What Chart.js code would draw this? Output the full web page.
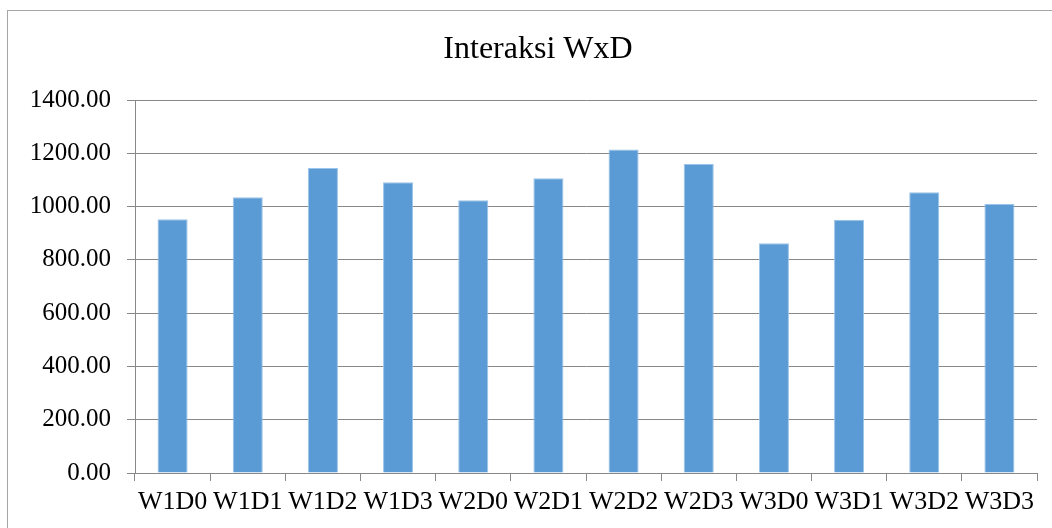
<!DOCTYPE html>
<html>
<head>
<meta charset="utf-8">
<script src="https://cdn.jsdelivr.net/npm/chart.js@4.4.1/dist/chart.umd.min.js"></script>
<style>
  body { margin: 0; background: #fff; }
  #frame {
    position: absolute; left: 7px; top: 10px;
    width: 1100px; height: 600px;
    border-left: 1px solid #a6a6a6; border-top: 1px solid #a6a6a6;
  }
  #wrap { position: absolute; left: 0; top: 0; width: 1052px; height: 528px; }
</style>
</head>
<body>
<div id="frame"></div>
<div id="wrap"><canvas id="chart" width="1052" height="528"></canvas></div>
<script>
const categories = ["W1D0", "W1D1", "W1D2", "W1D3", "W2D0", "W2D1", "W2D2", "W2D3", "W3D0", "W3D1", "W3D2", "W3D3"];
const values = [952, 1035, 1145, 1091, 1024, 1106, 1214, 1160, 862, 951, 1054, 1010];
const yTicks = [0, 200, 400, 600, 800, 1000, 1200, 1400];

const serif = "'Liberation Serif', 'Times New Roman', serif";

// excel centres the title over the whole chart box, not over the plot area
const titleSpan = {
  id: "titleSpan",
  afterLayout(chart) {
    chart.titleBlock.left = 39;
    chart.titleBlock.right = 1037;
  },
};

new Chart(document.getElementById("chart").getContext("2d"), {
  type: "bar",
  data: {
    labels: categories,
    datasets: [
      {
        label: "Interaksi WxD",
        data: values,
        backgroundColor: "#5b9bd5",
        borderColor: "#9cc3e8",
        borderWidth: 1,
        barPercentage: 0.4,
        categoryPercentage: 1.0,
      },
    ],
  },
  options: {
    responsive: false,
    animation: false,
    layout: { padding: { left: 0, right: 15, top: 0, bottom: 0 } },
    plugins: {
      legend: { display: false },
      tooltip: { enabled: false },
      title: {
        display: true,
        text: "Interaksi WxD",
        color: "#000",
        font: { family: serif, size: 32, weight: "normal", lineHeight: 1.2 },
        padding: { top: 30, bottom: 31.6 },
      },
    },
    scales: {
      x: {
        offset: true,
        grid: {
          offset: true,
          drawOnChartArea: false,
          drawTicks: true,
          tickLength: 8,
          color: "#888",
        },
        border: { color: "#888" },
        ticks: {
          color: "#000",
          font: { family: serif, size: 26 },
          maxRotation: 0,
          autoSkip: false,
          padding: 6,
        },
        afterFit: (scale) => { scale.height = 55; },
      },
      y: {
        min: 0,
        max: 1400,
        afterBuildTicks: (scale) => { scale.ticks = yTicks.map((v) => ({ value: v })); },
        grid: { color: "#888", tickLength: 8 },
        border: { color: "#888" },
        ticks: {
          color: "#000",
          font: { family: serif, size: 25 },
          padding: 16,
          callback: (v) => Number(v).toFixed(2),
        },
        afterFit: (scale) => { scale.width = 135; },
      },
    },
  },
  plugins: [titleSpan],
});
</script>
</body>
</html>
